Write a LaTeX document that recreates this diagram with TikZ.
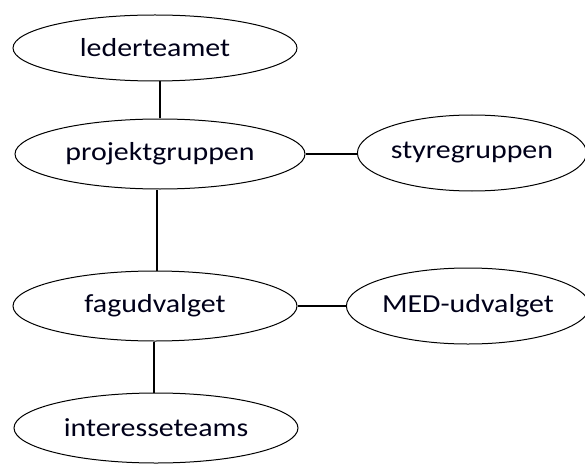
\documentclass[tikz,border=0pt]{standalone}
\usepackage{fontspec}
\setmainfont{Carlito}[FakeStretch=1.15]
\usepackage{tikz}
\usetikzlibrary{shapes.geometric}
\def\wideell{284pt}
\def\narrowell{222pt}

\begin{document}
\begin{tikzpicture}[x=1pt,y=-1pt,draw=black,line width=1pt]
            \tikzstyle{group}=[ellipse,draw,inner sep=0pt,font=\fontsize{26}{30}\selectfont,text=black!90!blue]
            \tikzstyle{main group}=[group,minimum width=\wideell,minimum height=70pt]
            \tikzstyle{side group}=[group,minimum width=\narrowell,minimum height=76pt]
            \tikzstyle{link}=[line width=1.3pt]

            \useasboundingbox (0,0) rectangle (585,465);

            % Draw the main column of groups
            \node[main group, minimum height=66pt] (L) at (155,48) {lederteamet};
            \node[main group, minimum width=290pt] (P) at (160,154) {projektgruppen};
            \node[main group] (F) at (155,306) {fagudvalget};
            \node[main group] (I) at (156,428) {interesseteams};

            % Draw the groups on the side
            \node[side group] (S) at (472,153) {styregruppen};
            \node[side group, minimum width=224pt] (M) at (468,306) {MED-udvalget};

            % Connect the groups
            \draw[link] (P.north) -- (P.north |- L.south);
            \draw[link] ([xshift=2pt]F.north) -- ([xshift=2pt]F.north |- P.south);
            \draw[link] ([xshift=-2pt]I.north) -- ([xshift=-2pt]I.north |- F.south);
            \draw[link] (P.east) -- (P.east -| S.west);
            \draw[link] (F.east) -- (F.east -| M.west);
        \end{tikzpicture}
\end{document}
